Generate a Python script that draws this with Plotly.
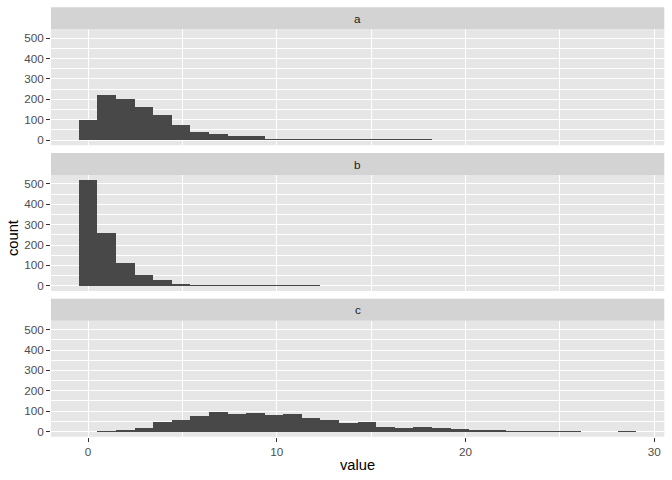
import plotly.graph_objects as go

# ---- data ----
facets = ["a", "b", "c"]
bin_start = -0.49
bin_width = 0.985
counts_a = [95, 219, 200, 160, 121, 72, 39, 28, 18, 17, 3, 3, 3, 3, 3, 1, 1, 1, 1, 0,
            0, 0, 0, 0, 0, 0, 0, 0, 0, 0]
counts_b = [518, 258, 111, 52, 28, 8, 3, 3, 3, 3, 1, 1, 1, 0, 0, 0, 0, 0, 0, 0,
            0, 0, 0, 0, 0, 0, 0, 0, 0, 0]
counts_c = [0, 1, 7, 17, 46, 56, 76, 96, 86, 91, 81, 86, 66, 56, 45, 50, 23, 18, 23, 18,
            13, 8, 8, 3, 3, 1, 3, 0, 0, 1]
x_ticks = [0, 10, 20, 30]
y_ticks = [0, 100, 200, 300, 400, 500]

all_counts = [counts_a, counts_b, counts_c]
n_bins = len(counts_a)
centers = [bin_start + bin_width * (i + 0.5) for i in range(n_bins)]
x_lo = bin_start
x_hi = bin_start + bin_width * n_bins
xpad = 0.05 * (x_hi - x_lo)
ymax = max(max(c) for c in all_counts)
ypad = 0.05 * ymax

W, H = 672, 480
PANEL_BG = "#E6E6E6"
STRIP_BG = "#D3D3D3"
BAR = "#484848"
FONT = "Liberation Sans, Arial, sans-serif"

left_px, right_px = 51, 664.3
top0, strip_h, panel_h, gap = 7.3, 22.0, 116.0, 7.7

fig = go.Figure()
shapes = []
annotations = []
layout = {}
for k, (name, counts) in enumerate(zip(facets, all_counts)):
    s_top = top0 + k * (strip_h + panel_h + gap)
    p_top = s_top + strip_h
    p_bot = p_top + panel_h
    idx = "" if k == 0 else str(k + 1)
    fig.add_trace(go.Bar(
        x=centers, y=counts, width=bin_width,
        marker=dict(color=BAR, line=dict(width=0)),
        xaxis="x" + idx, yaxis="y" + idx, showlegend=False,
        hoverinfo="x+y",
    ))
    layout["xaxis" + idx] = dict(
        domain=[left_px / W, right_px / W],
        anchor="y" + idx,
        range=[x_lo - xpad, x_hi + xpad],
        tickvals=x_ticks,
        showticklabels=(k == 2),
        ticks="outside" if k == 2 else "",
        ticklen=4, tickwidth=1.1, tickcolor="#333333",
        showgrid=True, gridcolor="white", gridwidth=1.3,
        minor=dict(dtick=5, showgrid=True, gridcolor="white", gridwidth=0.6, ticks=""),
        zeroline=False, showline=False,
        tickfont=dict(family=FONT, size=11.7, color="#4D4D4D"),
        fixedrange=True,
    )
    layout["yaxis" + idx] = dict(
        domain=[1 - p_bot / H, 1 - p_top / H],
        anchor="x" + idx,
        range=[-ypad, ymax + ypad],
        tickvals=y_ticks,
        ticks="outside", ticklen=4, tickwidth=1.1, tickcolor="#333333",
        showgrid=True, gridcolor="white", gridwidth=1.3,
        minor=dict(dtick=50, tick0=50, showgrid=True, gridcolor="white", gridwidth=0.6, ticks=""),
        zeroline=False, showline=False,
        tickfont=dict(family=FONT, size=11.7, color="#4D4D4D"),
        fixedrange=True,
    )
    # panel background
    shapes.append(dict(type="rect", xref="paper", yref="paper", layer="below",
                       x0=left_px / W, x1=right_px / W,
                       y0=1 - p_bot / H, y1=1 - p_top / H,
                       fillcolor=PANEL_BG, line=dict(width=0)))
    # strip
    shapes.append(dict(type="rect", xref="paper", yref="paper",
                       x0=left_px / W, x1=right_px / W,
                       y0=1 - p_top / H, y1=1 - s_top / H,
                       fillcolor=STRIP_BG, line=dict(width=0)))
    annotations.append(dict(text=name, xref="paper", yref="paper",
                            x=(left_px + right_px) / 2 / W,
                            y=1 - (s_top + strip_h / 2) / H,
                            showarrow=False, xanchor="center", yanchor="middle",
                            font=dict(family=FONT, size=11.7, color="#1A1A1A")))

annotations.append(dict(text="value", xref="paper", yref="paper",
                        x=(left_px + right_px) / 2 / W, y=1 - 465 / H,
                        showarrow=False, xanchor="center", yanchor="middle",
                        font=dict(family=FONT, size=14.7, color="black")))
annotations.append(dict(text="count", xref="paper", yref="paper",
                        x=13 / W, y=1 - 238 / H, textangle=-90,
                        showarrow=False, xanchor="center", yanchor="middle",
                        font=dict(family=FONT, size=14.7, color="black")))

fig.update_layout(
    width=W, height=H,
    margin=dict(l=0, r=0, t=0, b=0, autoexpand=False),
    paper_bgcolor="white", plot_bgcolor="rgba(0,0,0,0)",
    bargap=0, barmode="overlay",
    shapes=shapes, annotations=annotations,
    **layout,
)
fig.write_html("out.html",
               config={"displayModeBar": False},
               post_script="document.body.style.margin='0';document.body.style.padding='0';")
